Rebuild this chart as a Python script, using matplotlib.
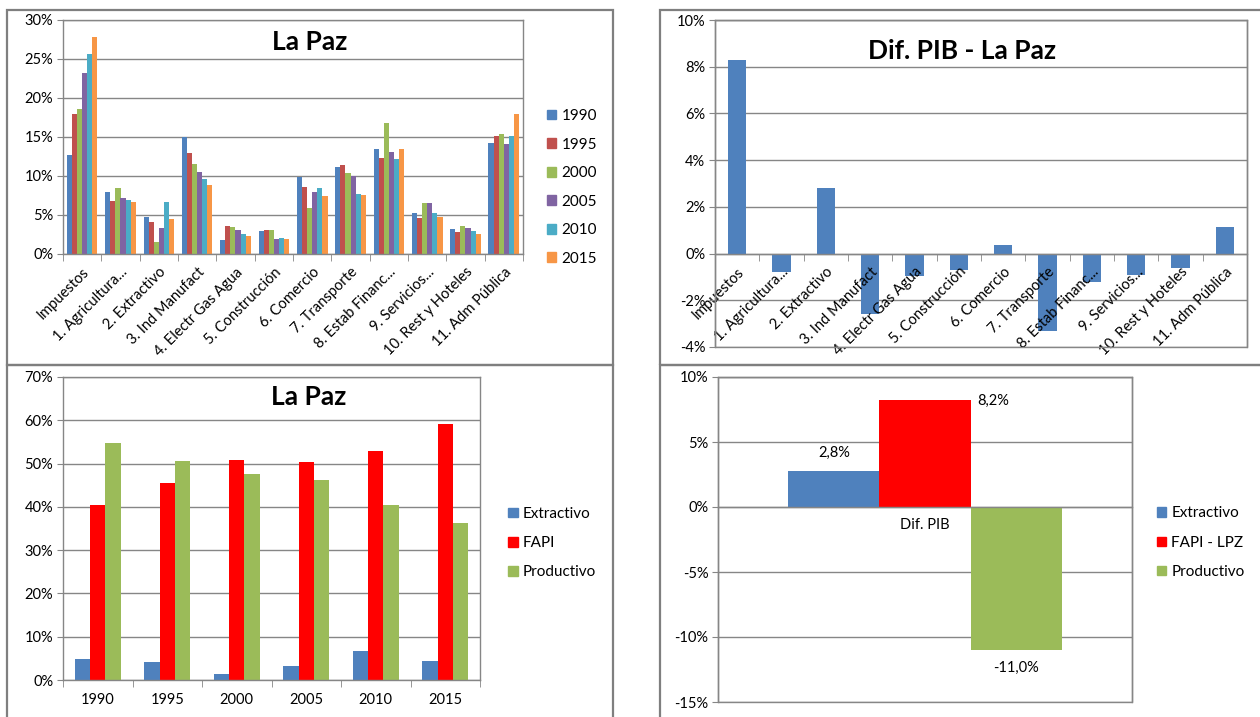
import matplotlib
matplotlib.use('Agg')
import numpy as np
from matplotlib import pyplot as plt
from matplotlib.patches import Rectangle
from matplotlib.ticker import FuncFormatter, FixedLocator

plt.rcParams['font.family'] = ['Lato', 'DejaVu Sans']

# data
sectors = ['Impuestos', '1. Agricultura...', '2. Extractivo', '3. Ind Manufact',
           '4. Electr Gas Agua', '5. Construcción', '6. Comercio', '7. Transporte',
           '8. Estab Financ...', '9. Servicios...', '10. Rest y Hoteles', '11. Adm Pública']
years = ['1990', '1995', '2000', '2005', '2010', '2015']
share_1990 = [12.7, 7.9, 4.8, 15.0, 1.8, 3.0, 9.9, 11.1, 13.4, 5.2, 3.2, 14.2]
share_1995 = [18.0, 6.8, 4.1, 13.0, 3.6, 3.1, 8.6, 11.4, 12.3, 4.6, 2.8, 15.1]
share_2000 = [18.6, 8.4, 1.5, 11.5, 3.5, 3.1, 5.9, 10.4, 16.8, 6.5, 3.6, 15.4]
share_2005 = [23.2, 7.2, 3.3, 10.5, 3.1, 1.9, 7.9, 10.0, 13.1, 6.5, 3.3, 14.1]
share_2010 = [25.6, 6.9, 6.7, 9.6, 2.5, 2.0, 8.4, 7.7, 12.2, 5.3, 2.9, 15.1]
share_2015 = [27.8, 6.7, 4.5, 8.9, 2.3, 1.9, 7.4, 7.6, 13.5, 4.8, 2.6, 17.9]
dif_pib = [8.3, -0.8, 2.8, -2.6, -0.95, -0.7, 0.35, -3.3, -1.2, -0.9, -0.6, 1.15]

groups = ['Extractivo', 'FAPI', 'Productivo']
extractivo = [4.9, 4.1, 1.4, 3.2, 6.7, 4.5]
fapi = [40.4, 45.4, 50.8, 50.4, 52.8, 59.2]
productivo = [54.7, 50.6, 47.6, 46.3, 40.4, 36.2]

dif_labels = ['Extractivo', 'FAPI - LPZ', 'Productivo']
dif_values = [2.8, 8.2, -11.0]

YEAR_COLORS = ['#4F81BD', '#C0504D', '#9BBB59', '#8064A2', '#4BACC6', '#F79646']
GROUP_COLORS = ['#4F81BD', '#FF0000', '#9BBB59']
GRID = '#868686'
FRAME = '#7f7f7f'

W, H = 1260, 717
fig = plt.figure(figsize=(W / 100, H / 100), dpi=100)


def px_axes(l, t, r, b):
    return fig.add_axes([l / W, 1 - b / H, (r - l) / W, (b - t) / H])


def frame(l, t, r, b):
    fig.add_artist(Rectangle((l / W, 1 - b / H), (r - l) / W, (b - t) / H,
                             transform=fig.transFigure, fill=False, ec=FRAME, lw=1.6))


def pct(v, _):
    return f'{v:.0f}%'


def style(ax, yticks, n_cats):
    ax.set_ylim(yticks[0], yticks[-1])
    ax.set_xlim(-0.5, n_cats - 0.5)
    ax.set_yticks(yticks)
    ax.yaxis.set_major_formatter(FuncFormatter(pct))
    for y in yticks:
        ax.axhline(y, color=GRID, lw=1, zorder=0.5)
    for s in ax.spines.values():
        s.set_color(GRID)
        s.set_linewidth(1)
    ax.tick_params(axis='y', direction='out', length=4, color=GRID, labelsize=10.5, pad=3)
    ax.xaxis.set_minor_locator(FixedLocator(np.arange(-0.5, n_cats, 1.0)))
    ax.tick_params(axis='x', which='minor', direction='out', length=5, color=GRID)
    ax.tick_params(axis='x', which='major', length=0)


def legend(ax, labels, colors, anchor, spacing):
    handles = [Rectangle((0, 0), 1, 1, color=c) for c in colors]
    ax.legend(handles, labels, loc='center left', bbox_to_anchor=anchor, frameon=False,
              fontsize=11, handlelength=0.6, handleheight=0.6, handletextpad=0.35,
              labelspacing=spacing, borderpad=0, borderaxespad=0)


# frames
frame(7, 10, 613, 365)
frame(660, 10, 1262, 365)
frame(7, 365, 613, 720)
frame(660, 365, 1262, 720)

# top-left: sector shares by year
ax1 = px_axes(63, 20, 523, 254)
style(ax1, list(range(0, 31, 5)), len(sectors))
x = np.arange(len(sectors))
w = 0.8 / len(years)
series = [share_1990, share_1995, share_2000, share_2005, share_2010, share_2015]
for j, vals in enumerate(series):
    ax1.bar(x + (j - 2.5) * w, vals, w, color=YEAR_COLORS[j], zorder=1)
ax1.set_xticks(x)
ax1.set_xticklabels(sectors, rotation=45, ha='right', rotation_mode='anchor', fontsize=10.5)
ax1.tick_params(axis='x', which='major', pad=8)
ax1.text(0.537, 0.905, 'La Paz', transform=ax1.transAxes, ha='center', va='center',
         fontsize=19, fontweight='bold')
legend(ax1, years, YEAR_COLORS, (1.052, 0.285), 0.95)

# top-right: PIB difference
ax2 = px_axes(715, 20, 1247, 347)
style(ax2, list(range(-4, 11, 2)), len(sectors))
ax2.bar(x, dif_pib, 0.42, color='#4F81BD', zorder=1)
ax2.spines['bottom'].set_position(('data', 0))
ax2.add_patch(Rectangle((0, 0), 1, 1, transform=ax2.transAxes, fill=False, ec=GRID, lw=1,
                        clip_on=False, zorder=3))
ax2.set_xticks(x)
ax2.set_xticklabels(sectors, rotation=45, ha='right', rotation_mode='anchor', fontsize=10.5)
ax2.tick_params(axis='x', which='major', pad=8)
ax2.text(0.465, 0.905, 'Dif. PIB - La Paz', transform=ax2.transAxes, ha='center', va='center',
         fontsize=19, fontweight='bold')

# bottom-left: groups by year
ax3 = px_axes(63, 377, 480, 680)
style(ax3, list(range(0, 71, 10)), len(years))
xs = np.arange(len(years))
bw = 0.22
for j, vals in enumerate([extractivo, fapi, productivo]):
    ax3.bar(xs + (j - 1) * bw, vals, bw, color=GROUP_COLORS[j], zorder=1)
ax3.set_xticks(xs)
ax3.set_xticklabels(years, fontsize=10.5)
ax3.tick_params(axis='x', which='major', pad=9)
ax3.text(0.59, 0.935, 'La Paz', transform=ax3.transAxes, ha='center', va='center',
         fontsize=19, fontweight='bold')
legend(ax3, groups, GROUP_COLORS, (1.068, 0.452), 1.0)

# bottom-right: PIB difference by group
ax4 = px_axes(718, 377, 1132, 702)
style(ax4, list(range(-15, 11, 5)), 1)
ax4.spines['bottom'].set_position(('data', 0))
ax4.add_patch(Rectangle((0, 0), 1, 1, transform=ax4.transAxes, fill=False, ec=GRID, lw=1,
                        clip_on=False, zorder=3))
for j, v in enumerate(dif_values):
    xc = (j - 1) * bw
    ax4.bar(xc, v, bw, color=GROUP_COLORS[j], zorder=1)
    txt = f'{v:.1f}%'.replace('.', ',')
    if j == 1:
        ax4.annotate(txt, (xc + bw / 2, v), xytext=(5, 0), textcoords='offset points',
                     ha='left', va='center', fontsize=10.5)
    elif v >= 0:
        ax4.annotate(txt, (xc, v), xytext=(0, 8), textcoords='offset points',
                     ha='center', va='bottom', fontsize=10.5)
    else:
        ax4.annotate(txt, (xc, v), xytext=(0, -8), textcoords='offset points',
                     ha='center', va='top', fontsize=10.5)
ax4.set_xticks([0])
ax4.set_xticklabels(['Dif. PIB'], fontsize=10.5)
ax4.tick_params(axis='x', which='major', pad=8)
legend(ax4, dif_labels, GROUP_COLORS, (1.06, 0.49), 1.0)

fig.savefig('out.png', dpi=100)
